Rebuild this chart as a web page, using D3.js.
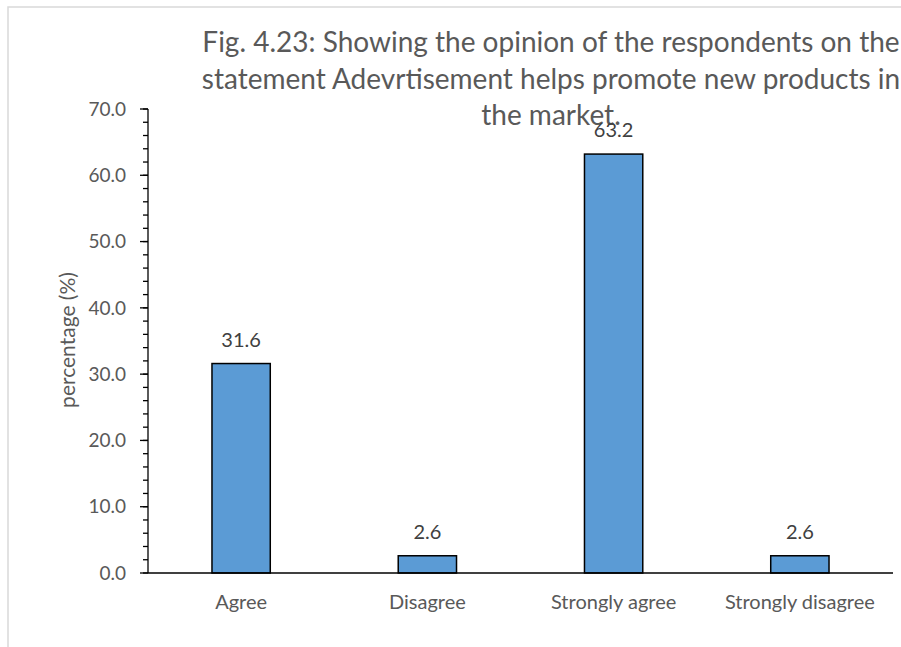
<!DOCTYPE html>
<html><head><meta charset="utf-8">
<script src="https://cdn.jsdelivr.net/npm/d3@7"></script>
<style>body{margin:0;background:#fff;}svg{display:block;}</style>
</head><body>
<svg id="chart" width="901" height="647"></svg>
<script>
const categories = ["Agree", "Disagree", "Strongly agree", "Strongly disagree"];
const values = [31.6, 2.6, 63.2, 2.6];
const valueLabels = ["31.6", "2.6", "63.2", "2.6"];
const yTicks = [0, 10, 20, 30, 40, 50, 60, 70];
const titleLines = [
  "Fig. 4.23: Showing the opinion of the respondents on the",
  "statement Adevrtisement helps promote new products in",
  "the market."
];
const yLabel = "percentage (%)";

(function () {
const svg = d3.select("#chart");
const font = "Lato, 'Open Sans', sans-serif";
const textColor = "#595959";

// outer border (cropped chart area)
svg.append("rect").attr("x", 8).attr("y", 7).attr("width", 1000).attr("height", 1000)
  .attr("fill", "none").attr("stroke", "#d9d9d9").attr("stroke-width", 1.5);

const pLeft = 148, pRight = 893, pTop = 109, pBottom = 573;
const x = d3.scaleBand().domain(categories).range([pLeft, pRight]).padding(0);
const y = d3.scaleLinear().domain([0, 70]).range([pBottom, pTop]);
const barW = x.bandwidth() * 0.313;

// title (drawn first so labels sit on top)
svg.append("g").selectAll("text").data(titleLines).join("text")
  .attr("x", 551).attr("y", (d, i) => 52 + i * 36.5)
  .attr("text-anchor", "middle")
  .attr("font-family", font).attr("font-size", 28).attr("fill", textColor)
  .text(d => d);

// bars
svg.append("g").selectAll("rect").data(values).join("rect")
  .attr("x", (d, i) => x(categories[i]) + x.bandwidth() / 2 - barW / 2)
  .attr("y", d => y(d))
  .attr("width", barW)
  .attr("height", d => y(0) - y(d))
  .attr("fill", "#5B9BD5")
  .attr("stroke", "#000").attr("stroke-width", 1.5);

// value labels
svg.append("g").selectAll("text").data(values).join("text")
  .attr("x", (d, i) => x(categories[i]) + x.bandwidth() / 2)
  .attr("y", d => y(d) - 17)
  .attr("text-anchor", "middle")
  .attr("font-family", font).attr("font-size", 20).attr("fill", "#404040")
  .text((d, i) => valueLabels[i]);

// y axis with minor ticks
const minor = d3.range(0, 70.001, 2);
const yAxisG = svg.append("g");
yAxisG.append("line").attr("x1", pLeft).attr("x2", pLeft).attr("y1", pTop).attr("y2", pBottom)
  .attr("stroke", "#000").attr("stroke-width", 1.3);
yAxisG.selectAll("line.minor").data(minor).join("line").attr("class", "minor")
  .attr("x1", pLeft - 5).attr("x2", pLeft).attr("y1", d => y(d)).attr("y2", d => y(d))
  .attr("stroke", "#000").attr("stroke-width", 1.3);
yAxisG.selectAll("line.major").data(yTicks).join("line").attr("class", "major")
  .attr("x1", pLeft - 8).attr("x2", pLeft).attr("y1", d => y(d)).attr("y2", d => y(d))
  .attr("stroke", "#000").attr("stroke-width", 1.3);
yAxisG.selectAll("text").data(yTicks).join("text")
  .attr("x", 126).attr("y", d => y(d)).attr("dy", "0.35em")
  .attr("text-anchor", "end")
  .attr("font-family", font).attr("font-size", 19).attr("fill", textColor)
  .text(d => d3.format(".1f")(d));

// x axis
svg.append("line").attr("x1", pLeft).attr("x2", pRight).attr("y1", pBottom).attr("y2", pBottom)
  .attr("stroke", "#000").attr("stroke-width", 1.3);
svg.append("g").selectAll("text").data(categories).join("text")
  .attr("x", d => x(d) + x.bandwidth() / 2).attr("y", 609)
  .attr("text-anchor", "middle")
  .attr("font-family", font).attr("font-size", 20).attr("fill", textColor)
  .text(d => d);

// y label
svg.append("text").attr("transform", "translate(75,340) rotate(-90)")
  .attr("text-anchor", "middle")
  .attr("font-family", font).attr("font-size", 21).attr("fill", textColor)
  .text(yLabel);
})();
</script>
</body></html>
